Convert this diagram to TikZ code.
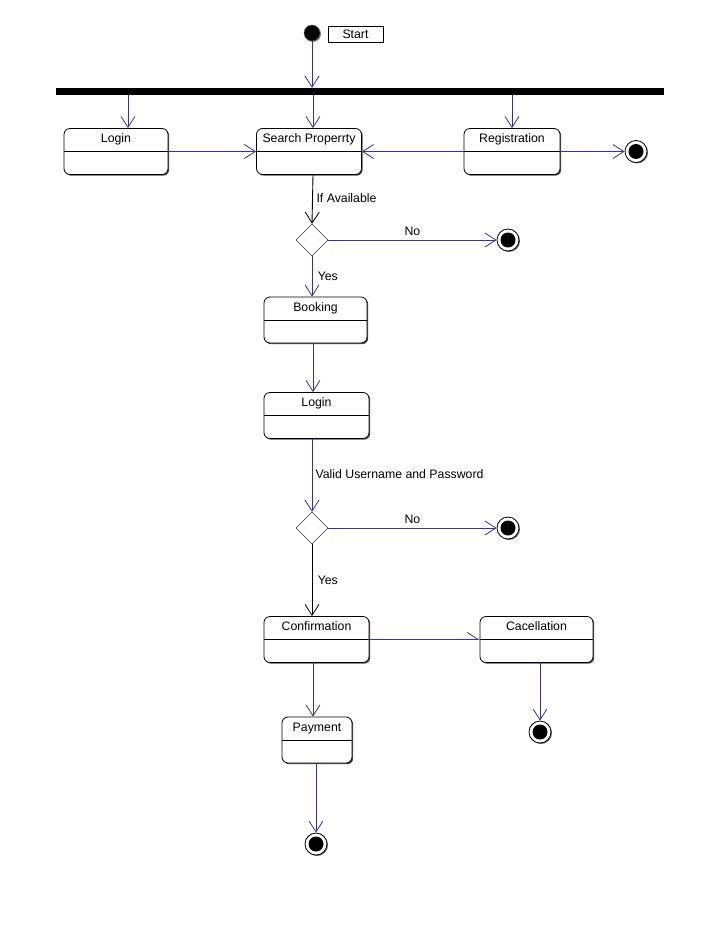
\documentclass[tikz,border=0pt]{standalone}
\usepackage{fontspec}
\setmainfont{Liberation Sans}
\usepackage{xcolor}
\usetikzlibrary{arrows.meta, positioning, shapes.geometric, shadows}

\definecolor{flowblue}{RGB}{51,51,153}

\begin{document}
\begin{tikzpicture}[x=1pt, y=-1pt,
  every node/.style={font=\fontsize{12.3}{14}\selectfont, text=black},
  state/.style={draw, thick, rounded corners=6pt, fill=white, inner xsep=2pt, inner ysep=3.5pt,
                text height=10.5pt, text depth=28pt, minimum height=46pt,
                drop shadow={shadow xshift=1.2pt, shadow yshift=-1.2pt, fill=black!70, opacity=1},
                path picture={\draw[thick, black] ([yshift=-23pt]path picture bounding box.north west)
                              -- ([yshift=-23pt]path picture bounding box.north east);}},
  decision/.style={draw, diamond, fill=white, minimum width=32pt, minimum height=32pt, inner sep=0pt},
  final/.style={draw, thick, circle, fill=white, minimum size=22pt, inner sep=0pt,
                drop shadow={shadow xshift=1pt, shadow yshift=-1pt, fill=black!60, opacity=1},
                path picture={\fill[black] (path picture bounding box.center) circle (7.5pt);}},
  initial/.style={circle, fill=black, draw=black!60, minimum size=16pt, inner sep=0pt,
                  drop shadow={shadow xshift=1pt, shadow yshift=-1pt, fill=black!50, opacity=1}},
  flow/.style={-{Straight Barb[length=11pt, width=14pt, line width=0.8pt]}, flowblue, line width=0.9pt},
  chosen/.style={-{Straight Barb[length=11pt, width=14pt, line width=0.8pt]}, black, line width=0.9pt},
  guard/.style={text=black}
]
  \useasboundingbox (0,0) rectangle (720,944);

  \node[initial] (start) at (312,33) {};
  \node[draw, minimum width=55pt, minimum height=16pt, inner sep=0pt] (startlbl) at (355.5,34) {Start};
  \node[fill=black, minimum width=608pt, minimum height=7pt, inner sep=0pt] (fork) at (360,91.5) {};

  \node[state, minimum width=104pt] (login) at (116,151.5) {Login};
  \node[state, minimum width=105pt] (search) at (309,151.5) {Search Properrty};
  \node[state, minimum width=96pt] (registration) at (512,151.5) {Registration};
  \node[final] (endreg) at (636,151.5) {};

  \node[decision] (available) at (312,240) {};
  \node[final] (endavail) at (508,240) {};

  \node[state, minimum width=103pt] (booking) at (315.5,320) {Booking};
  \node[state, minimum width=105pt] (login2) at (316.5,415.5) {Login};

  \node[decision] (valid) at (312,528) {};
  \node[final] (endvalid) at (508,528) {};

  \node[state, minimum width=105pt] (confirm) at (316.5,639.5) {Confirmation};
  \node[state, minimum width=113pt] (cancel) at (536.5,639.5) {Cacellation};
  \node[final] (endcancel) at (540,732) {};
  \node[state, minimum width=70pt] (payment) at (317,740) {Payment};
  \node[final] (endpay) at (316,844) {};

  \coordinate (col) at (313,0);
  \coordinate (colpay) at (316,0);
  \coordinate (colcancel) at (540,0);
  \coordinate (collogin) at (128,0);

  \draw[flow] (start) -- (start |- fork.north);
  \draw[flow] (fork.south -| collogin) -- (login.north -| collogin);
  \draw[flow] (fork.south -| col) -- (search.north -| col);
  \draw[flow] (fork.south -| registration) -- (registration.north);

  \draw[flow] (login.east) -- (search.west);
  \draw[flow] (registration.west) -- (search.east);
  \draw[flow] (registration.east) -- (endreg);

  \draw[chosen] (search.south -| col) -- (available.north);
  \node[guard, anchor=west] (ifavail) at (313,198) {If Available};
  \draw[flow] (available.east) -- (endavail) node[guard, midway, above=1pt] (no1) {No};
  \draw[flow] (available.south) -- (booking.north -| available) node[guard, midway, right=2pt] (yes1) {Yes};

  \draw[flow] (booking.south -| col) -- (login2.north -| col);
  \draw[flow] (login2.south -| valid) -- (valid.north);
  \node[guard, anchor=west] (validlbl) at (312,474) {Valid Username and Password};

  \draw[flow] (valid.east) -- (endvalid) node[guard, midway, above=1pt] (no2) {No};
  \draw[chosen] (valid.south) -- (confirm.north -| valid) node[guard, midway, right=2pt] (yes2) {Yes};

  \draw[-{Straight Barb[harpoon, length=11pt, width=14pt, line width=0.8pt]}, flowblue, line width=0.9pt]
    (confirm.east) -- (cancel.west);
  \draw[flow] (confirm.south -| col) -- (payment.north -| col);
  \draw[flow] (payment.south -| colpay) -- (endpay);
  \draw[flow] (cancel.south -| colcancel) -- (endcancel);
\end{tikzpicture}
\end{document}
